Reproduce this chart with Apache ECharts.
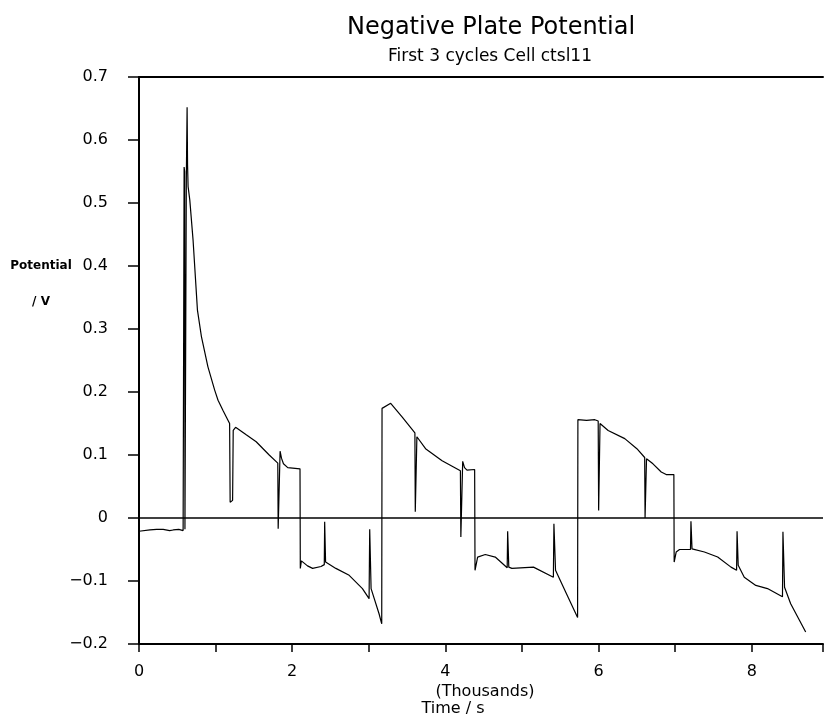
<!DOCTYPE html>
<html>
<head>
<meta charset="utf-8">
<script src="https://cdn.jsdelivr.net/npm/echarts@6/dist/echarts.min.js"></script>
<style>
html,body{margin:0;padding:0;background:#fff;}
#chart{width:826px;height:716px;}
</style>
</head>
<body>
<div id="chart"></div>
<script>
// ---- data (time in s, potential in V) ----
const timeS = [
  0, 143, 230, 316, 400, 446, 520, 576, 585, 589, 596, 600, 612, 618, 628, 634, 641, 663, 706, 763,
  815, 900, 988, 1032, 1100, 1183, 1190, 1222, 1230, 1261, 1400, 1530, 1700, 1812, 1817, 1842, 1860, 1886, 1942, 2102,
  2106, 2120, 2146, 2200, 2267, 2376, 2419, 2424, 2436, 2570, 2744, 2917, 3004, 3012, 3030, 3134, 3169, 3173, 3286, 3437,
  3602, 3607, 3628, 3741, 3957, 4196, 4202, 4226, 4250, 4282, 4382, 4387, 4421, 4521, 4651, 4807, 4813, 4828, 4868, 5150,
  5410, 5417, 5438, 5561, 5726, 5730, 5843, 5951, 5995, 6001, 6019, 6125, 6342, 6500, 6602, 6607, 6626, 6710, 6818, 6883,
  6983, 6987, 7013, 7057, 7200, 7206, 7220, 7382, 7555, 7729, 7802, 7808, 7823, 7902, 8053, 8205, 8401, 8407, 8428, 8508,
  8704
];
const potentialV = [
  -0.021, -0.019, -0.018, -0.018, -0.020, -0.019, -0.018, -0.020, -0.021, 0.557, 0.550, -0.018, -0.020, 0.540, 0.652, 0.560, 0.526, 0.505, 0.441, 0.330,
  0.288, 0.240, 0.203, 0.187, 0.170, 0.150, 0.025, 0.028, 0.139, 0.144, 0.132, 0.121, 0.100, 0.087, -0.017, 0.106, 0.095, 0.086, 0.080, 0.078,
  -0.080, -0.068, -0.066, -0.076, -0.080, -0.077, -0.074, -0.006, -0.070, -0.080, -0.091, -0.112, -0.128, -0.018, -0.112, -0.152, -0.168, 0.174, 0.182, 0.160,
  0.135, 0.010, 0.129, 0.110, 0.091, 0.075, -0.030, 0.090, 0.080, 0.076, 0.077, -0.083, -0.062, -0.058, -0.062, -0.079, -0.021, -0.078, -0.080, -0.078,
  -0.094, -0.009, -0.083, -0.115, -0.158, 0.156, 0.155, 0.156, 0.154, 0.012, 0.150, 0.139, 0.126, 0.110, 0.096, 0.000, 0.094, 0.086, 0.073, 0.069,
  0.069, -0.070, -0.054, -0.050, -0.050, -0.005, -0.049, -0.054, -0.062, -0.078, -0.083, -0.021, -0.075, -0.094, -0.107, -0.112, -0.125, -0.022, -0.110, -0.136,
  -0.181
];
const xLabels = ['0', '2', '4', '6', '8'];
const yLabels = ['−0.2', '−0.1', '0', '0.1', '0.2', '0.3', '0.4', '0.5', '0.6', '0.7'];
const titleText = 'Negative Plate Potential';
const subtitleText = 'First 3 cycles Cell ctsl11';
const yNameLines = ['Potential', '/ V'];
const xNameLines = ['(Thousands)', 'Time / s'];

// ---- chart ----
const FONT = '"DejaVu Sans", sans-serif';
const chart = echarts.init(document.getElementById('chart'), null, {renderer: 'canvas'});
const seriesData = timeS.map((t, i) => [t, potentialV[i]]);

const option = {
  animation: false,
  backgroundColor: '#fff',
  grid: {left: 139, right: 0, top: 77, bottom: 72, containLabel: false},
  xAxis: [{
    type: 'value', min: 0, max: 8930, interval: 1000, position: 'bottom',
    axisLine: {show: true, onZero: false, lineStyle: {color: '#000', width: 2}},
    axisTick: {show: true, inside: false, length: 8, lineStyle: {color: '#000', width: 1.5}},
    axisLabel: {
      color: '#000', fontSize: 16, fontFamily: FONT, margin: 20,
      formatter: v => {
        const k = Math.round(v / 1000);
        if (Math.abs(v - k * 1000) > 1 || k % 2 !== 0) return '';
        return xLabels[k / 2] !== undefined ? xLabels[k / 2] : '';
      }
    },
    splitLine: {show: false}
  }, {
    type: 'value', min: 0, max: 8930, position: 'top',
    axisLine: {show: true, onZero: false, lineStyle: {color: '#000', width: 2}},
    axisTick: {show: false}, axisLabel: {show: false}, splitLine: {show: false}
  }],
  yAxis: {
    type: 'value', min: -0.2, max: 0.7, interval: 0.1,
    axisLine: {show: true, onZero: false, lineStyle: {color: '#000', width: 2}},
    axisTick: {show: true, inside: false, length: 11, lineStyle: {color: '#000', width: 1.5}},
    axisLabel: {
      color: '#000', fontSize: 16, fontFamily: FONT, margin: 31,
      formatter: v => {
        const idx = Math.round((v + 0.2) * 10);
        return yLabels[idx] !== undefined ? yLabels[idx] : '';
      }
    },
    splitLine: {show: false}
  },
  series: [{
    type: 'line', xAxisIndex: 0, data: seriesData, showSymbol: false, symbol: 'none',
    lineStyle: {color: '#000', width: 1.2}, smooth: false, silent: true,
    markLine: {
      silent: true, symbol: ['none', 'none'], label: {show: false},
      lineStyle: {color: '#000', width: 1.5, type: 'solid'},
      data: [{yAxis: 0}]
    }
  }],
  graphic: [
    {type: 'text', style: {text: titleText, x: 491, y: 28, textAlign: 'center', textVerticalAlign: 'middle', fontSize: 24, fontFamily: FONT, fill: '#000'}},
    {type: 'text', style: {text: subtitleText, x: 490, y: 57, textAlign: 'center', textVerticalAlign: 'middle', fontSize: 17, fontFamily: FONT, fill: '#000'}},
    {type: 'text', style: {text: yNameLines[0], x: 41, y: 266, textAlign: 'center', textVerticalAlign: 'middle', fontSize: 12, fontWeight: 'bold', fontFamily: FONT, fill: '#000'}},
    {type: 'text', style: {text: yNameLines[1], x: 41, y: 302, textAlign: 'center', textVerticalAlign: 'middle', fontSize: 12, fontWeight: 'bold', fontFamily: FONT, fill: '#000'}},
    {type: 'text', style: {text: xNameLines[0], x: 485, y: 692, textAlign: 'center', textVerticalAlign: 'middle', fontSize: 16, fontFamily: FONT, fill: '#000'}},
    {type: 'text', style: {text: xNameLines[1], x: 453, y: 709, textAlign: 'center', textVerticalAlign: 'middle', fontSize: 16, fontFamily: FONT, fill: '#000'}}
  ]
};
chart.setOption(option);
</script>
</body>
</html>
